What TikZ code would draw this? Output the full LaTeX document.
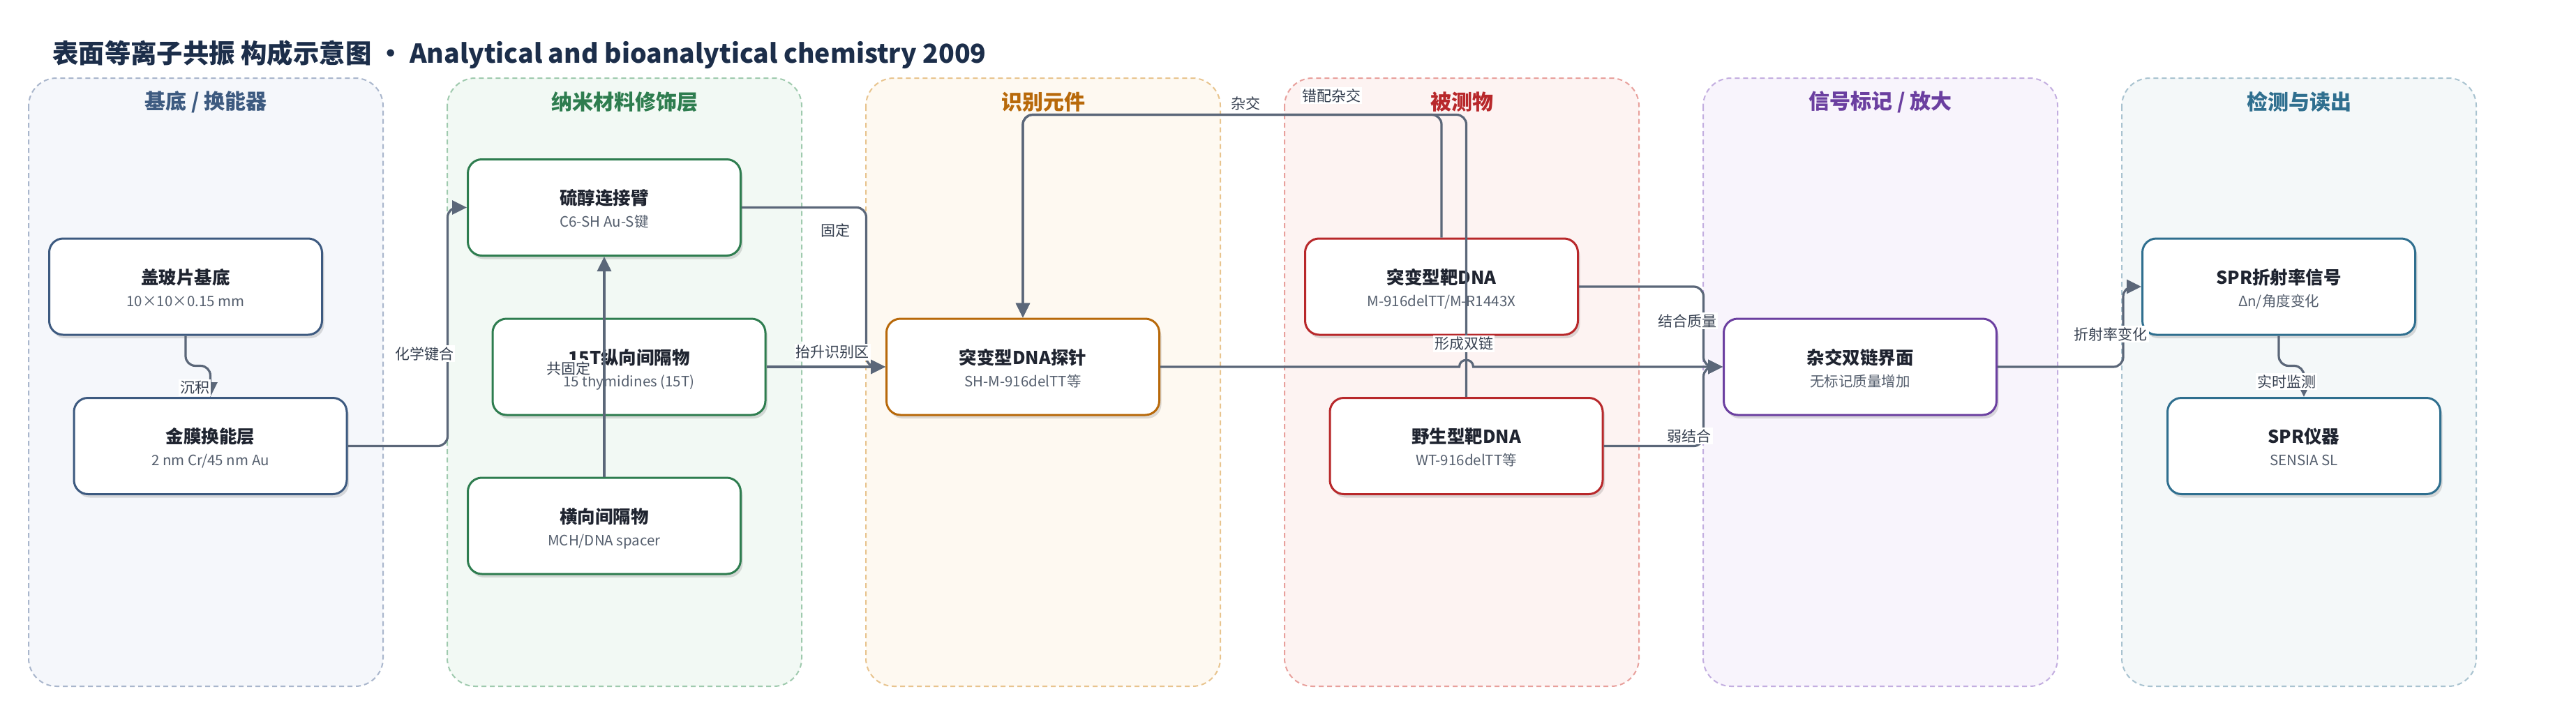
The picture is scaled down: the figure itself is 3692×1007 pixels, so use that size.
\documentclass[tikz,border=0pt]{standalone}
\usepackage{fontspec}
\setmainfont{Noto Sans CJK SC}
\usetikzlibrary{arrows.meta, shadows}

\definecolor{titlec}{HTML}{1C2E4A}
\definecolor{inkc}{HTML}{1F2430}
\definecolor{subc}{HTML}{555F6E}
\definecolor{labc}{HTML}{374151}
\definecolor{linkc}{HTML}{5B6779}
% column colours: border / dashed line / fill
\definecolor{cA}{HTML}{3D5A80}\definecolor{cAline}{HTML}{A9B6CC}\definecolor{cAfill}{HTML}{F5F7FB}
\definecolor{cB}{HTML}{2E7D4F}\definecolor{cBline}{HTML}{9FCAAE}\definecolor{cBfill}{HTML}{F2F9F4}
\definecolor{cC}{HTML}{B8690A}\definecolor{cCline}{HTML}{E8C48E}\definecolor{cCfill}{HTML}{FEF9F1}
\definecolor{cD}{HTML}{B8282B}\definecolor{cDline}{HTML}{E8A09C}\definecolor{cDfill}{HTML}{FDF3F2}
\definecolor{cE}{HTML}{6B3FA0}\definecolor{cEline}{HTML}{C3AEE0}\definecolor{cEfill}{HTML}{F8F4FC}
\definecolor{cF}{HTML}{2F6F8F}\definecolor{cFline}{HTML}{A9C3D0}\definecolor{cFfill}{HTML}{F4F8F9}

\newcommand{\boxhead}[1]{{\fontsize{25.5}{32}\selectfont\bfseries\color{inkc}#1}}
\newcommand{\boxsub}[1]{{\color{subc}#1}}

\tikzset{
    panel/.style 2 args={draw=#1, fill=#2, line width=2pt, dash pattern=on 7pt off 5pt, rounded corners=40pt},
    paneltitle/.style={text=#1, font=\fontsize{30}{36}\selectfont\bfseries, inner sep=0pt},
    part/.style={draw=#1, fill=white, line width=3pt, rounded corners=20pt, minimum width=391pt, minimum height=138pt,
        align=center, font=\fontsize{20.5}{32}\selectfont, text height=56pt, text depth=0pt,
        drop shadow={shadow xshift=3pt, shadow yshift=-5pt, opacity=0.13, fill=black}},
    link/.style={draw=linkc, line width=3.2pt, rounded corners=14pt, -{Triangle[length=21pt,width=20pt]}},
    tag/.style={fill=white, text=labc, font=\fontsize{21}{24}\selectfont, inner sep=2pt},
}

\begin{document}
\begin{tikzpicture}[x=1pt,y=-1pt]
    \useasboundingbox[fill=white] (0,0) rectangle (3692,1007);

    % Title
    \node[anchor=base west, inner sep=0pt, text=titlec, font=\fontsize{37.4}{44}\selectfont\bfseries] (title) at (75,90)
        {表面等离子共振 构成示意图 · Analytical and bioanalytical chemistry 2009};

    % Columns
    \draw[panel={cAline}{cAfill}] (41,112) rectangle (549,984);
    \node[paneltitle=cA] (colA) at (295,146) {基底 / 换能器};
    \draw[panel={cBline}{cBfill}] (641,112) rectangle (1149,984);
    \node[paneltitle=cB] (colB) at (895,146) {纳米材料修饰层};
    \draw[panel={cCline}{cCfill}] (1241,112) rectangle (1749,984);
    \node[paneltitle=cC] (colC) at (1495,146) {识别元件};
    \draw[panel={cDline}{cDfill}] (1841,112) rectangle (2349,984);
    \node[paneltitle=cD] (colD) at (2095,146) {被测物};
    \draw[panel={cEline}{cEfill}] (2441,112) rectangle (2949,984);
    \node[paneltitle=cE] (colE) at (2695,146) {信号标记 / 放大};
    \draw[panel={cFline}{cFfill}] (3041,112) rectangle (3549,984);
    \node[paneltitle=cF] (colF) at (3295,146) {检测与读出};

    % Parts
    \node[part=cA] (slide) at (266,411) {\boxhead{盖玻片基底}\\\boxsub{10×10×0.15 mm}};
    \node[part=cA] (gold) at (301.5,639.5) {\boxhead{金膜换能层}\\\boxsub{2 nm Cr/45 nm Au}};
    \node[part=cB] (thiol) at (866,297.5) {\boxhead{硫醇连接臂}\\\boxsub{C6-SH Au-S键}};
    \node[part=cB] (spacer) at (901.5,526) {\boxhead{15T纵向间隔物}\\\boxsub{15 thymidines (15T)}};
    \node[part=cB] (lateral) at (866,754) {\boxhead{横向间隔物}\\\boxsub{MCH/DNA spacer}};
    \node[part=cC] (probe) at (1466,526) {\boxhead{突变型DNA探针}\\\boxsub{SH-M-916delTT等}};
    \node[part=cD] (mutant) at (2066,411) {\boxhead{突变型靶DNA}\\\boxsub{M-916delTT/M-R1443X}};
    \node[part=cD] (wild) at (2101.5,639.5) {\boxhead{野生型靶DNA}\\\boxsub{WT-916delTT等}};
    \node[part=cE] (duplex) at (2666,526) {\boxhead{杂交双链界面}\\\boxsub{无标记质量增加}};
    \node[part=cF] (signal) at (3266,411) {\boxhead{SPR折射率信号}\\\boxsub{Δn/角度变化}};
    \node[part=cF] (device) at (3302,639.5) {\boxhead{SPR仪器}\\\boxsub{SENSIA SL}};

    % Connections
    \draw[link] (slide.south) -- ++(0,43) -| (gold.north);
    \draw[link] (gold.east) -| ([xshift=-27.5pt]thiol.west) -- (thiol.west);
    \draw[link] (lateral.north) -- (thiol.south);
    \draw[link] (thiol.east) -| ([xshift=-27.5pt]probe.west) -- (probe.west);
    \draw[link] (spacer.east) -- (probe.west);
    \draw[link] (mutant.north) |- ([yshift=291pt]probe.north) -- (probe.north);
    \draw[link] (wild.north) |- ([yshift=291pt]probe.north) -- (probe.north);
    \coordinate (cross) at (wild.north |- probe.east);
    \draw[link, sharp corners] (probe.east) -- ([xshift=-10pt]cross)
        .. controls ([xshift=-10pt,yshift=13pt]cross) and ([xshift=10pt,yshift=13pt]cross) .. ([xshift=10pt]cross) -- (duplex.west);
    \draw[link] (mutant.east) -| ([xshift=-27.5pt]duplex.west) -- (duplex.west);
    \draw[link] (wild.east) -| ([xshift=-27.5pt]duplex.west) -- (duplex.west);
    \draw[link] (duplex.east) -| ([xshift=-26pt]signal.west) -- (signal.west);
    \draw[link] (signal.south) -- ++(0,43) -| (device.north);

    % Connection labels
    \node[tag] (lDeposit) at (279,556) {沉积};
    \node[tag] (lBond) at (608,507) {化学键合};
    \node[tag] (lCofix) at (815,528) {共固定};
    \node[tag] (lFix) at (1197,330) {固定};
    \node[tag] (lLift) at (1193,505) {抬升识别区};
    \node[tag] (lHyb) at (1785,148) {杂交};
    \node[tag] (lMis) at (1908,137) {错配杂交};
    \node[tag] (lDuplex) at (2098,493) {形成双链};
    \node[tag] (lMass) at (2418,460) {结合质量};
    \node[tag] (lWeak) at (2421,625) {弱结合};
    \node[tag] (lRI) at (3025,479) {折射率变化};
    \node[tag] (lLive) at (3277,547) {实时监测};
\end{tikzpicture}
\end{document}
